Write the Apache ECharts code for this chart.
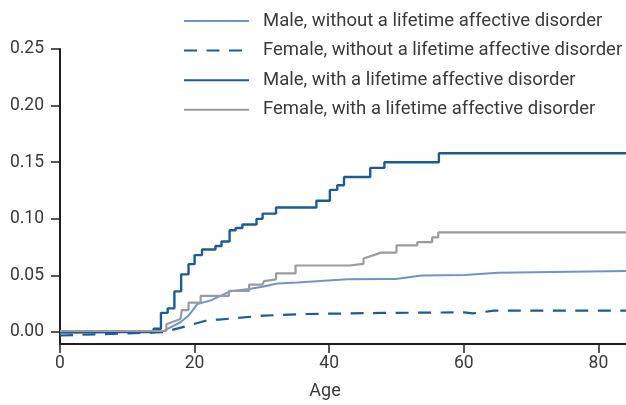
<!DOCTYPE html>
<html>
<head>
<meta charset="utf-8">
<script src="https://cdn.jsdelivr.net/npm/echarts@6/dist/echarts.min.js"></script>
<style>
  html, body { margin: 0; padding: 0; background: #fff; }
  #chart { width: 626px; height: 405px; }
</style>
</head>
<body>
<div id="chart"></div>
<script>
// values: [age, cumulative incidence]
const seriesNames = [
  'Male, without a lifetime affective disorder',
  'Female, without a lifetime affective disorder',
  'Male, with a lifetime affective disorder',
  'Female, with a lifetime affective disorder'
]
const maleWithout = [
  [0, -0.001], [15.4, 0.001], [17.9, 0.0087], [19.1, 0.0146], [20.4, 0.0248],
  [22.4, 0.028], [25.3, 0.036], [28.1, 0.038], [30.1, 0.040], [32.3, 0.043],
  [35.3, 0.0437], [42.7, 0.0466], [47.7, 0.047], [49.9, 0.047], [53.7, 0.050],
  [60.1, 0.0504], [65.1, 0.0524], [84.1, 0.054]
]
const femaleWithout = [
  [0, -0.003], [15.4, 0.0], [18.6, 0.005], [22.1, 0.0108], [23.6, 0.011],
  [30.3, 0.0146], [36.8, 0.016], [47.7, 0.0169], [60.1, 0.0175], [61.3, 0.0165],
  [64.5, 0.019], [84.1, 0.019]
]
// step points: value holds from this age to the next one
const maleWith = [
  [0, 0], [13.9, 0.003], [15.0, 0.017], [16.0, 0.021], [17.0, 0.036],
  [18.0, 0.051], [19.1, 0.060], [20.0, 0.068], [21.1, 0.073], [23.1, 0.076],
  [24.0, 0.080], [25.2, 0.090], [26.1, 0.092], [27.1, 0.095], [29.2, 0.100],
  [30.1, 0.1046], [32.1, 0.110], [38.1, 0.116], [40.1, 0.1256], [41.2, 0.1297],
  [42.2, 0.137], [46.1, 0.145], [48.2, 0.150], [56.3, 0.158], [84.1, 0.158]
]
const femaleWith = [
  [0, 0.001], [15.8, 0.001], [15.8, 0.007], [17.9, 0.0116], [18.1, 0.0116],
  [18.1, 0.0195], [19.1, 0.0195], [19.1, 0.026], [20.9, 0.026], [20.9, 0.032],
  [25.1, 0.032], [25.1, 0.0364], [28.1, 0.0364], [28.1, 0.042], [30.1, 0.042],
  [30.3, 0.045], [32.1, 0.0466], [32.1, 0.0518], [35.0, 0.0518], [35.0, 0.0588],
  [43.0, 0.0588], [45.1, 0.0603], [45.1, 0.065], [47.7, 0.0702], [50.0, 0.0702],
  [50.0, 0.0766], [53.1, 0.0766], [53.1, 0.0795], [55.3, 0.0795], [55.3, 0.0836],
  [56.2, 0.0836], [56.2, 0.088], [84.1, 0.088]
]
const xTicks = [0, 20, 40, 60, 80]
const yTicks = [0, 0.05, 0.10, 0.15, 0.20, 0.25]

const font = 'Roboto, "Liberation Sans", sans-serif'
const textColor = '#3a3a3a'
const axisColor = '#231f20'

const chart = echarts.init(document.getElementById('chart'))

chart.setOption({
  animation: false,
  backgroundColor: '#fff',
  textStyle: { fontFamily: font },
  grid: { left: 60, right: 0, top: 49, bottom: 58 },
  legend: {
    orient: 'vertical',
    left: 183,
    top: 10,
    padding: 0,
    itemWidth: 65,
    itemHeight: 14,
    itemGap: 7.6,
    data: seriesNames,
    itemStyle: { opacity: 0 },
    textStyle: { fontSize: 18.5, color: textColor, lineHeight: 22, padding: [0, 0, 0, 9] }
  },
  xAxis: {
    type: 'value',
    min: 0,
    max: 84.1,
    name: 'Age',
    nameLocation: 'middle',
    nameGap: 38,
    nameTextStyle: { fontSize: 18, color: textColor, padding: [0, 36, 0, 0] },
    splitLine: { show: false },
    axisLine: { onZero: false, lineStyle: { color: axisColor, width: 2 } },
    axisTick: { length: 9, customValues: xTicks, lineStyle: { color: axisColor, width: 1.5 } },
    axisLabel: { customValues: xTicks, margin: 11, fontSize: 17.5, color: textColor }
  },
  yAxis: {
    type: 'value',
    min: -0.0105,
    max: 0.25,
    splitLine: { show: false },
    axisLine: { show: true, lineStyle: { color: axisColor, width: 2 } },
    axisTick: { show: true, length: 9, customValues: yTicks, lineStyle: { color: axisColor, width: 1.5 } },
    axisLabel: {
      customValues: yTicks,
      margin: 16,
      fontSize: 17.5,
      color: textColor,
      formatter: v => v.toFixed(2)
    }
  },
  series: [
    {
      name: seriesNames[0],
      type: 'line',
      data: maleWithout,
      symbol: 'none',
      lineStyle: { color: '#6f93cc', width: 2 },
      itemStyle: { color: '#6f93cc' }
    },
    {
      name: seriesNames[1],
      type: 'line',
      data: femaleWithout,
      symbol: 'none',
      lineStyle: { color: '#1b5c98', width: 2.2, type: [13, 9.5] },
      itemStyle: { color: '#1b5c98' }
    },
    {
      name: seriesNames[2],
      type: 'line',
      data: maleWith,
      step: 'end',
      symbol: 'none',
      lineStyle: { color: '#1b5c98', width: 2.4 },
      itemStyle: { color: '#1b5c98' }
    },
    {
      name: seriesNames[3],
      type: 'line',
      data: femaleWith,
      symbol: 'none',
      lineStyle: { color: '#9b9b9b', width: 2.2 },
      itemStyle: { color: '#9b9b9b' }
    }
  ]
})
</script>
</body>
</html>
